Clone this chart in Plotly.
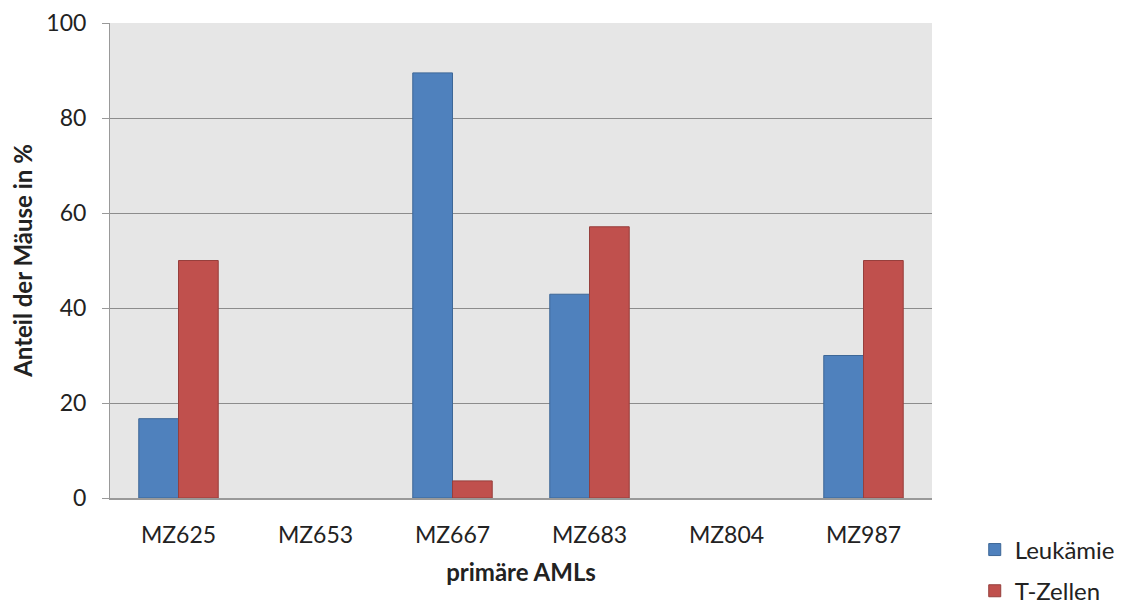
import plotly.graph_objects as go

categories = ["MZ625", "MZ653", "MZ667", "MZ683", "MZ804", "MZ987"]
leukaemie = [16.7, 0, 89.5, 42.9, 0, 30.0]
t_zellen = [50.0, 0, 3.6, 57.1, 0, 50.0]
y_ticks = [0, 20, 40, 60, 80, 100]

FONT = "Lato, 'Open Sans', sans-serif"


def outline_widths(values):
    return [1 if v > 0 else 0 for v in values]


fig = go.Figure()
fig.add_trace(go.Bar(
    x=categories, y=leukaemie, name="Leukämie", legendgroup="a",
    marker=dict(color="#4f81bd",
                line=dict(color="#3d6797", width=outline_widths(leukaemie))),
))
fig.add_trace(go.Bar(
    x=categories, y=t_zellen, name="T-Zellen", legendgroup="b",
    marker=dict(color="#c0504d",
                line=dict(color="#963f3c", width=outline_widths(t_zellen))),
))

fig.update_layout(
    width=1116, height=600,
    margin=dict(l=102, r=192, t=15, b=110, autoexpand=False),
    paper_bgcolor="white",
    plot_bgcolor="#e6e6e6",
    font=dict(family=FONT, size=23, color="#222222"),
    barmode="group",
    bargap=0.42,
    bargroupgap=0,
    legend=dict(
        x=1.052, xanchor="left", y=-0.062, yanchor="top",
        font=dict(size=24), traceorder="grouped", tracegroupgap=7,
        bgcolor="rgba(0,0,0,0)", itemwidth=30,
    ),
    xaxis=dict(
        showline=True, linecolor="#999999", linewidth=2,
        ticks="", ticklabelstandoff=15, automargin=False,
        title=dict(text="<b>primäre AMLs</b>", font=dict(size=24), standoff=18),
    ),
    yaxis=dict(
        range=[0, 100], tickvals=y_ticks, automargin=False,
        showline=True, linecolor="#999999", linewidth=1,
        ticks="outside", ticklen=7, tickcolor="#999999",
        ticklabelstandoff=11,
        showgrid=True, gridcolor="#8c8c8c", gridwidth=1,
        zeroline=False,
        title=dict(text="<b>Anteil der Mäuse in %</b>", font=dict(size=24), standoff=9),
    ),
)

fig.write_html("out.html")
